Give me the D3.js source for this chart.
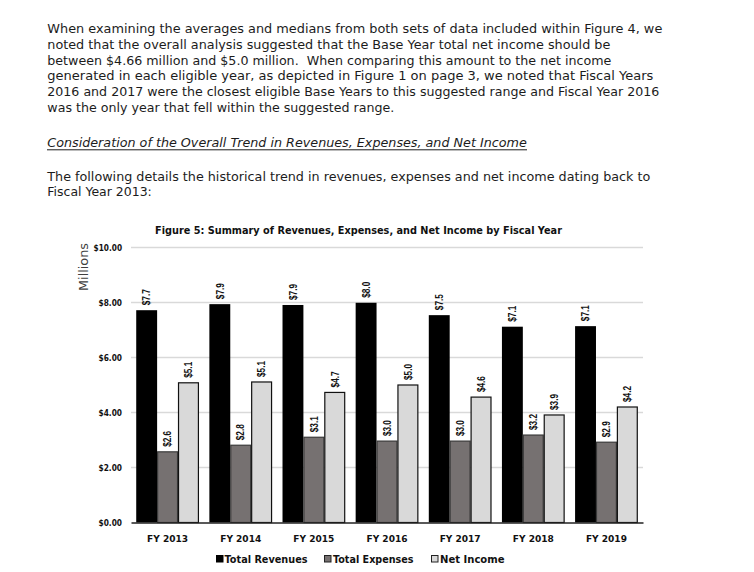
<!DOCTYPE html>
<html>
<head>
<meta charset="utf-8">
<script src="https://cdn.jsdelivr.net/npm/d3@7"></script>
<style>
  html, body { margin: 0; padding: 0; background: #fff; }
  svg { display: block; }
</style>
</head>
<body>
<svg id="page" width="754" height="572"></svg>
<script>
// ---------- DATA ----------
const categories = ["FY 2013", "FY 2014", "FY 2015", "FY 2016", "FY 2017", "FY 2018", "FY 2019"];
const seriesNames = ["Total Revenues", "Total Expenses", "Net Income"];
const revenues = [7.72, 7.94, 7.91, 7.99, 7.54, 7.12, 7.14];
const expenses = [2.57, 2.81, 3.10, 2.96, 2.96, 3.18, 2.92];
const netIncome = [5.08, 5.11, 4.73, 5.00, 4.56, 3.91, 4.20];
const yTicks = [0, 2, 4, 6, 8, 10];
const yTickLabels = ["$0.00", "$2.00", "$4.00", "$6.00", "$8.00", "$10.00"];
const chartTitle = "Figure 5: Summary of Revenues, Expenses, and Net Income by Fiscal Year";
const yAxisTitle = "Millions";
const paragraph1 = [
  "When examining the averages and medians from both sets of data included within Figure 4, we",
  "noted that the overall analysis suggested that the Base Year total net income should be",
  "between $4.66 million and $5.0 million.  When comparing this amount to the net income",
  "generated in each eligible year, as depicted in Figure 1 on page 3, we noted that Fiscal Years",
  "2016 and 2017 were the closest eligible Base Years to this suggested range and Fiscal Year 2016",
  "was the only year that fell within the suggested range."
];
const heading = "Consideration of the Overall Trend in Revenues, Expenses, and Net Income";
const paragraph2 = [
  "The following details the historical trend in revenues, expenses and net income dating back to",
  "Fiscal Year 2013:"
];

// ---------- LAYOUT / STYLE ----------
const svg = d3.select("#page");
const bodyFont = "'DejaVu Sans', sans-serif";
const textColor = "#1c1c1c";
const seriesValues = [revenues, expenses, netIncome];
const fills = ["#000000", "#767171", "#d9d9d9"];
const strokes = ["#000000", "#3a3a3a", "#111111"];

function fitText(sel, len) {
  sel.attr("textLength", len).attr("lengthAdjust", "spacingAndGlyphs");
  return sel;
}

// Paragraph 1
const p1Base = [33, 48.8, 64.6, 80.4, 96.2, 112];
const p1Len = [615, 563, 564, 606, 612, 347];
paragraph1.forEach((line, i) => {
  const t = svg.append("text")
    .attr("x", 47.3).attr("y", p1Base[i])
    .attr("font-family", bodyFont).attr("font-size", 13)
    .attr("fill", textColor)
    .style("white-space", "pre")
    .text(line);
  fitText(t, p1Len[i]);
});

// Heading (italic, underlined)
const h = svg.append("text")
  .attr("x", 47.3).attr("y", 147.3)
  .attr("font-family", bodyFont).attr("font-size", 13)
  .attr("font-style", "italic")
  .attr("fill", textColor)
  .text(heading);
fitText(h, 479.5);
svg.append("line")
  .attr("x1", 47).attr("x2", 527).attr("y1", 149.8).attr("y2", 149.8)
  .attr("stroke", textColor).attr("stroke-width", 1);

// Paragraph 2
const p2Base = [181.3, 196.3];
const p2Len = [603, 104.5];
paragraph2.forEach((line, i) => {
  const t = svg.append("text")
    .attr("x", 47.3).attr("y", p2Base[i])
    .attr("font-family", bodyFont).attr("font-size", 13)
    .attr("fill", textColor)
    .text(line);
  fitText(t, p2Len[i]);
});

// ---------- CHART ----------
const plot = { left: 131, right: 643, top: 247.5, bottom: 522.5 };

const x0 = d3.scaleBand().domain(categories).range([plot.left, plot.right]).paddingInner(0).paddingOuter(0);
const x1 = d3.scaleBand().domain(seriesNames).range([0, x0.bandwidth()]).paddingInner(0).paddingOuter(0.25);
const y = d3.scaleLinear().domain([0, 10]).range([plot.bottom, plot.top]);

// Title
fitText(svg.append("text")
  .attr("x", 358.5).attr("y", 234)
  .attr("text-anchor", "middle")
  .attr("font-family", bodyFont).attr("font-size", 10.5).attr("font-weight", "bold")
  .attr("fill", "#111")
  .text(chartTitle), 407);

// Gridlines
svg.append("g").selectAll("line").data(yTicks.filter(d => d > 0)).join("line")
  .attr("x1", plot.left).attr("x2", plot.right)
  .attr("y1", d => y(d)).attr("y2", d => y(d))
  .attr("stroke", "#d9d9d9").attr("stroke-width", 1.3);

// Y axis (labels only)
const yAxis = d3.axisLeft(y).tickValues(yTicks).tickSize(0).tickPadding(0)
  .tickFormat((d, i) => yTickLabels[i]);
const yg = svg.append("g").attr("transform", `translate(122,0)`).call(yAxis);
yg.select(".domain").remove();
yg.selectAll("text")
  .attr("font-family", bodyFont).attr("font-size", 8).attr("font-weight", "bold")
  .attr("fill", "#111")
  .each(function(d) {
    const lab = yTickLabels[yTicks.indexOf(d)];
    d3.select(this).attr("textLength", lab.length === 6 ? 28.4 : 23.5).attr("lengthAdjust", "spacingAndGlyphs");
  });

// Y axis title
fitText(svg.append("text")
  .attr("transform", `translate(88,267) rotate(-90)`)
  .attr("text-anchor", "middle")
  .attr("font-family", bodyFont).attr("font-size", 12.5)
  .attr("fill", "#404040")
  .text(yAxisTitle), 48);

// Bars
const groups = svg.append("g").selectAll("g").data(categories).join("g")
  .attr("transform", d => `translate(${x0(d)},0)`);

seriesNames.forEach((s, si) => {
  groups.append("rect")
    .attr("x", x1(s) + (si === 0 ? 0 : 0.5))
    .attr("width", x1.bandwidth() - (si === 0 ? 0 : 1))
    .attr("y", (d, i) => y(seriesValues[si][i]))
    .attr("height", (d, i) => y(0) - y(seriesValues[si][i]))
    .attr("fill", fills[si])
    .attr("stroke", si === 0 ? "none" : strokes[si])
    .attr("stroke-width", 1.2);

  groups.append("text")
    .attr("transform", (d, i) => `translate(${x1(s) + x1.bandwidth() / 2},${y(seriesValues[si][i]) - 5}) rotate(-90)`)
    .attr("dy", "0.36em")
    .attr("text-anchor", "start")
    .attr("font-family", "'Liberation Sans', Arial, sans-serif")
    .attr("font-size", 10.5).attr("font-weight", "bold")
    .attr("fill", "#111")
    .attr("textLength", 16).attr("lengthAdjust", "spacingAndGlyphs")
    .text((d, i) => "$" + seriesValues[si][i].toFixed(1));
});

// X axis
const xAxis = d3.axisBottom(x0).tickSize(0).tickPadding(0);
const xg = svg.append("g").attr("transform", `translate(0,${plot.bottom})`).call(xAxis);
xg.select(".domain").attr("stroke", "#222").attr("stroke-width", 1.5);
xg.selectAll("text")
  .attr("y", 19.5).attr("dy", 0)
  .attr("font-family", bodyFont).attr("font-size", 9.5).attr("font-weight", "bold")
  .attr("fill", "#111")
  .attr("textLength", 41).attr("lengthAdjust", "spacingAndGlyphs");

// Legend
const legendItems = [
  { name: seriesNames[0], mx: 216, tx: 224.5, len: 83 },
  { name: seriesNames[1], mx: 324, tx: 333, len: 80.5 },
  { name: seriesNames[2], mx: 431, tx: 440, len: 64.5 }
];
const lg = svg.append("g");
legendItems.forEach((it, i) => {
  lg.append("rect")
    .attr("x", it.mx + 0.5).attr("y", 555.5).attr("width", 6.5).attr("height", 6.5)
    .attr("fill", fills[i]).attr("stroke", i === 0 ? "#000" : "#222").attr("stroke-width", 1);
  fitText(lg.append("text")
    .attr("x", it.tx).attr("y", 563)
    .attr("font-family", bodyFont).attr("font-size", 10).attr("font-weight", "bold")
    .attr("fill", "#111")
    .text(it.name), it.len);
});
</script>
</body>
</html>
